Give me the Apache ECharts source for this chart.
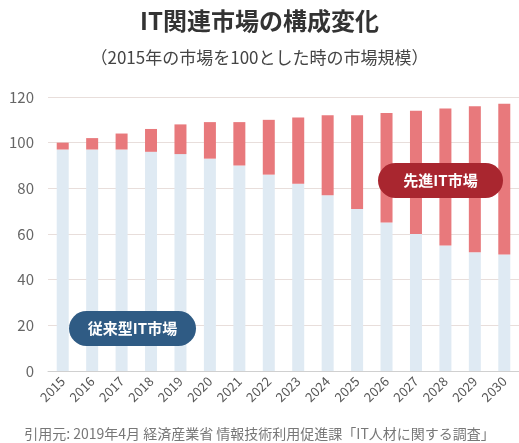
<!DOCTYPE html>
<html><head><meta charset="utf-8">
<script src="https://cdn.jsdelivr.net/npm/echarts@6/dist/echarts.min.js"></script>
<style>html,body{margin:0;padding:0;background:#fff}#c{width:519px;height:443px}</style>
</head><body><div id="c"></div>
<script>
const years = ['2015','2016','2017','2018','2019','2020','2021','2022','2023','2024','2025','2026','2027','2028','2029','2030'];
const traditional = [97,97,97,96,95,93,90,86,82,77,71,65,60,55,52,51];
const total = [100,102,104,106,108,109,109,110,111,112,112,113,114,115,116,117];
const advanced = total.map((t,i)=>t-traditional[i]);
const yTicks = [0,20,40,60,80,100,120];
const FONT = '"Noto Sans CJK JP", "Noto Sans", sans-serif';

const chart = echarts.init(document.getElementById('c'));
chart.setOption({
  animation:false,
  textStyle:{fontFamily:FONT},
  title:[
    {text:'IT関連市場の構成変化', left:'center', top:4, textStyle:{fontFamily:FONT,fontSize:24,fontWeight:'bold',color:'#333'}},
    {text:'（2015年の市場を100とした時の市場規模）', left:'center', top:44, textStyle:{fontFamily:FONT,fontSize:17,fontWeight:'normal',color:'#444'}},
    {text:'引用元: 2019年4月 経済産業省 情報技術利用促進課「IT人材に関する調査」', left:'center', top:422, textStyle:{fontFamily:FONT,fontSize:14,fontWeight:'normal',color:'#777'}}
  ],
  grid:{left:48,right:-3,top:97,bottom:72,containLabel:false},
  xAxis:{type:'category',data:years,
    axisLine:{show:true,lineStyle:{color:'#d0d0d0'}},axisTick:{show:false},
    axisLabel:{rotate:45,fontSize:13,color:'#555',margin:8,fontFamily:FONT}},
  yAxis:{type:'value',min:0,max:120,interval:20,
    axisLine:{show:false},axisTick:{show:false},
    splitLine:{lineStyle:{color:'#e8dedb'}},
    axisLabel:{fontSize:15,color:'#666',margin:14,fontFamily:FONT,
      formatter:v=>yTicks.includes(v)?String(v):''}},
  series:[
    {name:'従来型IT市場',type:'bar',stack:'a',barWidth:12,data:traditional,itemStyle:{color:'#dfeaf3'}},
    {name:'先進IT市場',type:'bar',stack:'a',barWidth:12,data:advanced,itemStyle:{color:'#e8797c'}}
  ],
  graphic:[
    {type:'group',left:69,top:311,z:100,children:[
      {type:'rect',z:100,shape:{x:0,y:0,width:127,height:35,r:17.5},style:{fill:'#2f5b84'}},
      {type:'text',z:101,x:63.5,y:17.5,style:{text:'従来型IT市場',fill:'#fff',font:'bold 15px '+FONT,textAlign:'center',textVerticalAlign:'middle'}}
    ]},
    {type:'group',left:378,top:163,z:100,children:[
      {type:'rect',z:100,shape:{x:0,y:0,width:125,height:35,r:17.5},style:{fill:'#a9262f'}},
      {type:'text',z:101,x:62.5,y:17.5,style:{text:'先進IT市場',fill:'#fff',font:'bold 15px '+FONT,textAlign:'center',textVerticalAlign:'middle'}}
    ]}
  ]
});
</script></body></html>
